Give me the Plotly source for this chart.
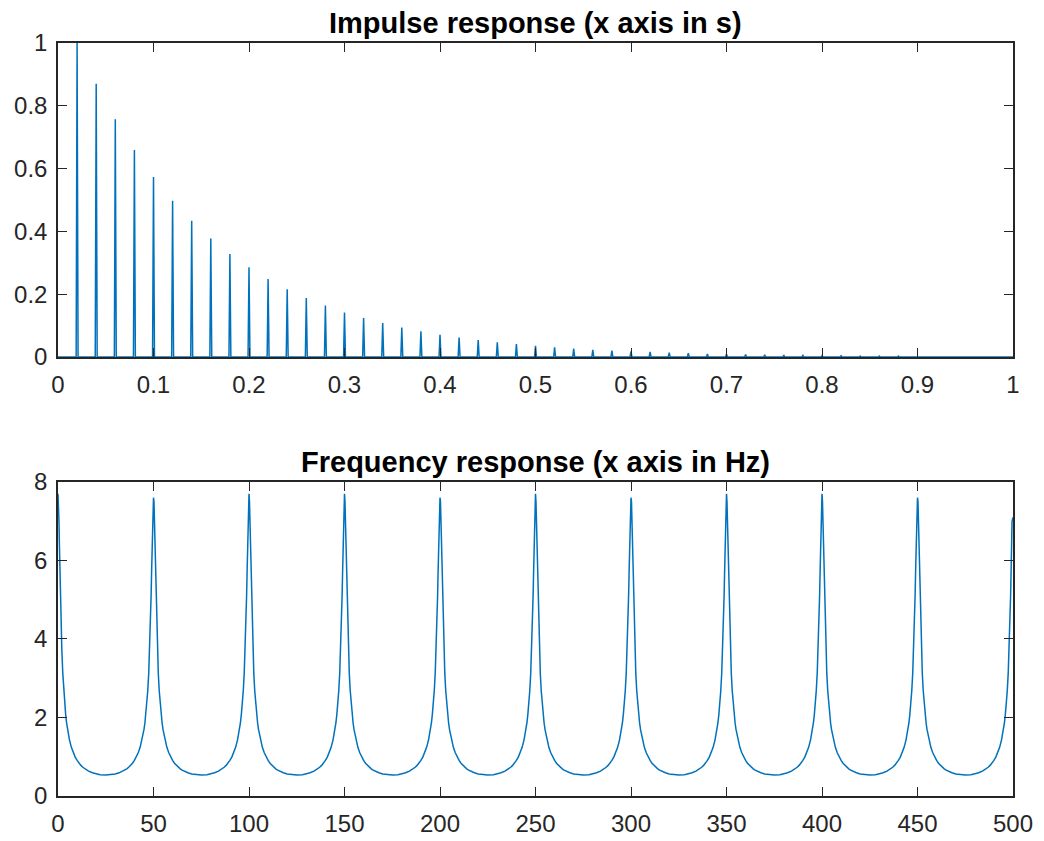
import plotly.graph_objects as go
from plotly.subplots import make_subplots

# ---- Impulse response data ----
spike_times = [round(0.02 * k, 2) for k in range(1, 50)]
spike_amps = [1.0, 0.87, 0.757, 0.659, 0.573, 0.498, 0.434, 0.377, 0.328, 0.286,
              0.248, 0.216, 0.188, 0.164, 0.142, 0.124, 0.108, 0.094, 0.082, 0.071,
              0.062, 0.054, 0.047, 0.041, 0.036, 0.031, 0.027, 0.023, 0.020, 0.018,
              0.016, 0.014, 0.012, 0.010, 0.009, 0.008, 0.007, 0.006, 0.005, 0.004,
              0.004, 0.003, 0.003, 0.003, 0.002, 0.002, 0.002, 0.001, 0.001]
sample_step = 0.001  # sampling period of impulse response (s)

# ---- Frequency response data ----
peak_freqs = [0, 50, 100, 150, 200, 250, 300, 350, 400, 450, 500]
peak_heights = [7.7, 7.6, 7.7, 7.7, 7.6, 7.7, 7.6, 7.7, 7.7, 7.6, 7.1]
# half-period profile: offset from a peak (Hz) -> magnitude
profile_offsets = [0.25, 0.5, 0.75, 1, 1.25, 1.5, 1.75, 2, 2.5, 3, 3.5, 4, 4.5, 5, 6, 7,
                   8, 9, 10, 11, 12, 13, 14, 15, 16, 18, 20, 22, 25]
profile_mag = [7.5, 7.0, 6.37, 5.7, 5.11, 4.6, 4.12, 3.74, 3.13, 2.68, 2.34, 2.08, 1.86,
               1.69, 1.43, 1.24, 1.10, 0.99, 0.906, 0.836, 0.78, 0.732, 0.693, 0.66,
               0.633, 0.591, 0.562, 0.544, 0.535]

# build impulse-response polyline
t = [0.0]
h = [0.0]
for ts, a in zip(spike_times, spike_amps):
    t += [ts - sample_step, ts, ts + sample_step]
    h += [0.0, a, 0.0]
t.append(1.0)
h.append(0.0)

# build frequency-response polyline
f = []
m = []
last = len(peak_freqs) - 1
for i, (pf, ph) in enumerate(zip(peak_freqs, peak_heights)):
    if i > 0:
        for d, v in reversed(list(zip(profile_offsets, profile_mag))):
            if d == 25:
                continue
            if i == last and v > ph:
                continue  # curve ends before reaching the full peak
            f.append(pf - d)
            m.append(v)
    f.append(pf)
    m.append(ph)
    if i < last:
        for d, v in zip(profile_offsets, profile_mag):
            f.append(pf + d)
            m.append(v)

fig = make_subplots(rows=2, cols=1, vertical_spacing=0.166)

line_color = "#0072BD"
fig.add_trace(go.Scatter(x=t, y=h, mode="lines", line=dict(color=line_color, width=1.5),
                         showlegend=False), row=1, col=1)
fig.add_trace(go.Scatter(x=f, y=m, mode="lines", line=dict(color=line_color, width=1.5),
                         showlegend=False), row=2, col=1)

tick_font = dict(family="Liberation Sans, Arial", size=24, color="#262626")
axis_style = dict(showline=True, linecolor="#262626", linewidth=1.5, mirror="allticks",
                  ticks="inside", ticklen=9, tickwidth=1.2, tickcolor="#262626",
                  showgrid=False, zeroline=False, tickfont=tick_font, automargin=False)

fig.update_xaxes(range=[0, 1], tickvals=[0, 0.1, 0.2, 0.3, 0.4, 0.5, 0.6, 0.7, 0.8, 0.9, 1],
                 ticktext=["0", "0.1", "0.2", "0.3", "0.4", "0.5", "0.6", "0.7", "0.8", "0.9", "1"],
                 ticklabelstandoff=5, row=1, col=1, **axis_style)
fig.update_yaxes(range=[0, 1], tickvals=[0, 0.2, 0.4, 0.6, 0.8, 1],
                 ticktext=["0", "0.2", "0.4", "0.6", "0.8", "1"],
                 ticklabelstandoff=4, row=1, col=1, **axis_style)
fig.update_xaxes(range=[0, 500], tickvals=list(range(0, 501, 50)), ticklabelstandoff=5,
                 row=2, col=1, **axis_style)
fig.update_yaxes(range=[0, 8], tickvals=[0, 2, 4, 6, 8], ticklabelstandoff=4,
                 row=2, col=1, **axis_style)

title_font = dict(family="Liberation Sans, Arial", size=29, color="#000000")
fig.add_annotation(text="<b>Impulse response (x axis in s)</b>", xref="x domain", yref="y domain",
                   x=0.5, y=1, xanchor="center", yanchor="bottom", yshift=2,
                   showarrow=False, font=title_font)
fig.add_annotation(text="<b>Frequency response (x axis in Hz)</b>", xref="x2 domain", yref="y2 domain",
                   x=0.5, y=1, xanchor="center", yanchor="bottom", yshift=2,
                   showarrow=False, font=title_font)

fig.update_layout(width=1028, height=833, plot_bgcolor="white", paper_bgcolor="white",
                  margin=dict(l=50, r=23, t=35, b=45, autoexpand=False))

fig.write_html("out.html")
